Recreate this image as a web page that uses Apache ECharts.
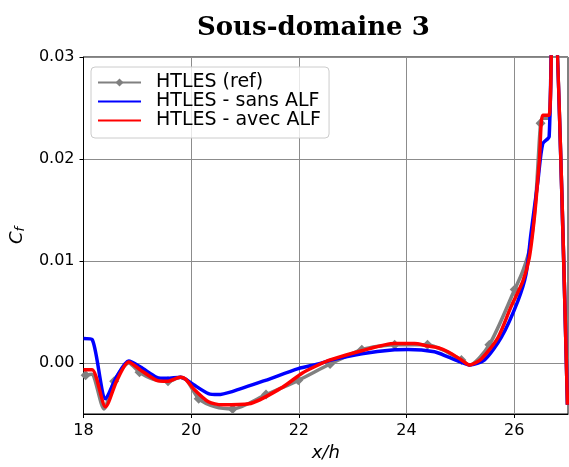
<!DOCTYPE html>
<html>
<head>
<meta charset="utf-8">
<script src="https://cdn.jsdelivr.net/npm/echarts@6/dist/echarts.min.js"></script>
<style>
  html, body { margin: 0; padding: 0; background: #fff; }
  #chart { width: 569px; height: 467px; }
</style>
</head>
<body>
<div id="chart"></div>
<script>
// Skin-friction coefficient along x/h, sub-domain 3

// Reference HTLES curve
const refX = [18.00, 18.04, 18.15, 18.38, 18.57, 18.84, 19.04, 19.30, 19.57, 19.80, 19.92, 20.14, 20.45, 20.77, 21.39, 21.99, 22.58, 23.17, 23.78, 24.39, 24.75, 25.02, 25.17, 25.54, 26.01, 26.16, 26.30, 26.40, 26.49, 26.53, 26.65, 26.72, 26.99];
const refY = [-0.0012, -0.0012, -0.0011, -0.0045, -0.0018, 0.0000, -0.0009, -0.0016, -0.0018, -0.0014, -0.0017, -0.0035, -0.0043, -0.0045, -0.0031, -0.0017, -0.0001, 0.0013, 0.0018, 0.0018, 0.0011, 0.0003, -0.0002, 0.0018, 0.0072, 0.0090, 0.0115, 0.0160, 0.0235, 0.0240, 0.0240, 0.0400, -0.0041];
// x positions of the diamond markers on the reference curve
const refMarkerX = [18.04, 18.57, 19.04, 19.57, 20.14, 20.77, 21.39, 21.99, 22.58, 23.17, 23.78, 24.39, 25.02, 25.54, 26.01, 26.49];

// HTLES without ALF
const sansX = [18.00, 18.16, 18.41, 18.62, 18.84, 19.06, 19.36, 19.55, 19.80, 19.90, 20.04, 20.32, 20.50, 20.76, 21.38, 21.99, 22.36, 22.58, 23.17, 23.78, 24.03, 24.52, 24.77, 25.00, 25.17, 25.45, 25.76, 26.07, 26.22, 26.31, 26.44, 26.53, 26.65, 26.72, 26.99];
const sansY = [0.0024, 0.0023, -0.0035, -0.0013, 0.0002, -0.0004, -0.0014, -0.0015, -0.0014, -0.0016, -0.0021, -0.0030, -0.0031, -0.0028, -0.0017, -0.00055, -0.0001, 0.00026, 0.0009, 0.0013, 0.00133, 0.0011, 0.0006, 0.0001, -0.0002, 0.0003, 0.0025, 0.0061, 0.0087, 0.0126, 0.0178, 0.0215, 0.0222, 0.0400, -0.0041];

// HTLES with ALF
const avecX = [18.00, 18.16, 18.41, 18.62, 18.84, 19.06, 19.36, 19.55, 19.80, 19.90, 20.04, 20.32, 20.57, 21.07, 21.69, 22.06, 22.36, 22.58, 23.17, 23.78, 24.15, 24.37, 24.59, 24.77, 25.02, 25.17, 25.39, 25.70, 25.94, 26.16, 26.28, 26.38, 26.47, 26.53, 26.65, 26.72, 26.99];
const avecY = [-0.00065, -0.00065, -0.0043, -0.0017, 0.0001, -0.0007, -0.0017, -0.0018, -0.0014, -0.0016, -0.0025, -0.0038, -0.0041, -0.0040, -0.0024, -0.0010, -0.0002, 0.0003, 0.0012, 0.0019, 0.0019, 0.0017, 0.0015, 0.0011, 0.0003, -0.0002, 0.0004, 0.0025, 0.0055, 0.0080, 0.0103, 0.0145, 0.0200, 0.0243, 0.0243, 0.0400, -0.0041];

// Axis ticks
const xTicks = [18, 20, 22, 24, 26];
const yTicks = [0.00, 0.01, 0.02, 0.03];

const seriesNames = ['HTLES (ref)', 'HTLES - sans ALF', 'HTLES - avec ALF'];

const zip = (xs, ys) => xs.map((x, i) => [x, ys[i]]);

const refData = refX.map((x, i) => {
  const marked = refMarkerX.some(m => Math.abs(m - x) < 1e-9);
  return marked ? { value: [x, refY[i]] } : { value: [x, refY[i]], symbol: 'none' };
});

const chart = echarts.init(document.getElementById('chart'), null, { renderer: 'canvas' });

const tickFont = { fontFamily: 'DejaVu Sans', fontSize: 16, color: '#000' };
const gridGray = '#8c8c8c';
const curveSmooth = 0.25;

chart.setOption({
  animation: false,
  backgroundColor: '#fff',
  title: {
    text: 'Sous-domaine 3',
    left: 192,
    top: 10,
    textStyle: { fontFamily: 'DejaVu Serif', fontWeight: 'bold', fontSize: 26, color: '#000' }
  },
  grid: {
    left: 81, top: 57, right: 1, bottom: 50,
    show: true, borderColor: '#000', borderWidth: 1, backgroundColor: 'transparent'
  },
  legend: {
    orient: 'vertical',
    left: 91, top: 67,
    data: [
      { name: seriesNames[0] },
      { name: seriesNames[1], itemStyle: { opacity: 0 } },
      { name: seriesNames[2], itemStyle: { opacity: 0 } }
    ],
    itemWidth: 43, itemHeight: 10, itemGap: 0,
    padding: [6, 8, 8, 6],
    backgroundColor: 'rgba(255,255,255,0.8)',
    borderColor: '#cccccc', borderWidth: 1, borderRadius: 4,
    textStyle: { fontFamily: 'DejaVu Sans', fontSize: 19, color: '#000', lineHeight: 19, padding: [0, 0, 0, 10] }
  },
  xAxis: {
    type: 'value', min: 18, max: 27,
    name: 'x/h', nameLocation: 'middle', nameGap: 30,
    nameTextStyle: { fontFamily: 'DejaVu Sans', fontStyle: 'italic', fontSize: 18, color: '#000' },
    axisLine: { show: true, onZero: false, lineStyle: { color: '#000', width: 1 } },
    axisTick: { show: true, inside: false, length: 4, lineStyle: { color: '#000' }, customValues: xTicks },
    axisLabel: { ...tickFont, margin: 9, customValues: xTicks, formatter: v => String(v) },
    splitLine: { show: true, lineStyle: { color: gridGray, width: 1 } }
  },
  yAxis: {
    type: 'value', min: -0.005, max: 0.03,
    name: '{c|C}{f|f}', nameLocation: 'middle', nameGap: 56, nameRotate: 90,
    nameTextStyle: {
      rich: {
        c: { fontFamily: 'DejaVu Sans', fontStyle: 'italic', fontSize: 18, color: '#000' },
        f: { fontFamily: 'DejaVu Sans', fontStyle: 'italic', fontSize: 13, color: '#000', padding: [8, 0, 0, 0] }
      }
    },
    axisLine: { show: true, onZero: false, lineStyle: { color: '#000', width: 1 } },
    axisTick: { show: true, inside: false, length: 4, lineStyle: { color: '#000' }, customValues: yTicks },
    axisLabel: { ...tickFont, margin: 9, customValues: yTicks, formatter: v => v.toFixed(2) },
    splitLine: { show: true, lineStyle: { color: gridGray, width: 1 } }
  },
  series: [
    {
      name: seriesNames[0], type: 'line', data: refData, z: 1,
      symbol: 'diamond', symbolSize: 10,
      smooth: curveSmooth,
      itemStyle: { color: '#808080' },
      lineStyle: { color: '#808080', width: 3.5, join: 'round' },
      emphasis: { disabled: true }
    },
    {
      name: seriesNames[1], type: 'line', data: zip(sansX, sansY), z: 2,
      symbol: 'none',
      smooth: curveSmooth,
      itemStyle: { color: '#0000ff' },
      lineStyle: { color: '#0000ff', width: 3.5, join: 'round' },
      emphasis: { disabled: true }
    },
    {
      name: seriesNames[2], type: 'line', data: zip(avecX, avecY), z: 3,
      symbol: 'none',
      smooth: curveSmooth,
      itemStyle: { color: '#ff0000' },
      lineStyle: { color: '#ff0000', width: 3.5, join: 'round' },
      emphasis: { disabled: true }
    }
  ]
});
</script>
</body>
</html>
